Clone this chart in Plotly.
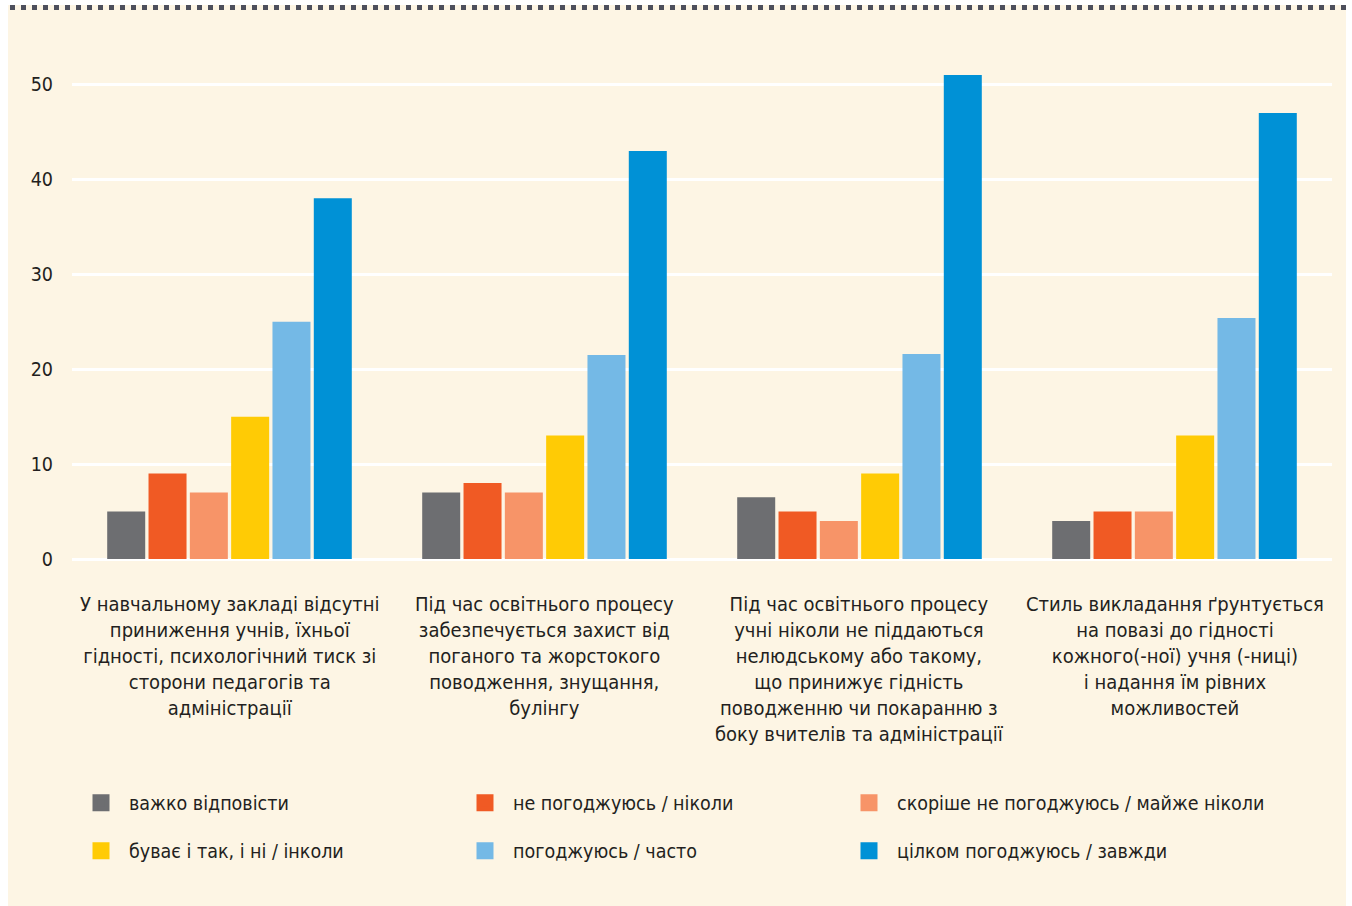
import plotly.graph_objects as go

categories = [
    "У навчальному закладі відсутні<br>приниження учнів, їхньої<br>гідності, психологічний тиск зі<br>сторони педагогів та<br>адміністрації",
    "Під час освітнього процесу<br>забезпечується захист від<br>поганого та жорстокого<br>поводження, знущання,<br>булінгу",
    "Під час освітнього процесу<br>учні ніколи не піддаються<br>нелюдському або такому,<br>що принижує гідність<br>поводженню чи покаранню з<br>боку вчителів та адміністрації",
    "Стиль викладання ґрунтується<br>на повазі до гідності<br>кожного(-ної) учня (-ниці)<br>і надання їм рівних<br>можливостей",
]
cat_ids = ["c1", "c2", "c3", "c4"]

series_names = [
    "важко відповісти",
    "не погоджуюсь / ніколи",
    "скоріше не погоджуюсь / майже ніколи",
    "буває і так, і ні / інколи",
    "погоджуюсь / часто",
    "цілком погоджуюсь / завжди",
]
v_hard = [5, 7, 6.5, 4]
v_disagree = [9, 8, 5, 5]
v_rather_not = [7, 7, 4, 5]
v_sometimes = [15, 13, 9, 13]
v_agree = [25, 21.5, 21.6, 25.4]
v_fully = [38, 43, 51, 47]
series_values = [v_hard, v_disagree, v_rather_not, v_sometimes, v_agree, v_fully]
colors = ["#6d6e71", "#f05a24", "#f79468", "#ffcb05", "#74b9e6", "#0091d6"]

y_ticks = [0, 10, 20, 30, 40, 50]

FONT = "DejaVu Sans Condensed, Liberation Sans Narrow, Arial Narrow, sans-serif"
TXT = "#231f20"
CREAM = "#fdf5e4"
FS = 19.5
FS_CAT = 20

fig = go.Figure()
for i, (name, vals, col) in enumerate(zip(series_names, series_values, colors)):
    # the real bars
    fig.add_trace(go.Bar(
        x=cat_ids, y=vals, name=name,
        marker=dict(color=col, line=dict(width=0)),
        showlegend=False, hoverinfo="y+name",
    ))
for i, (name, col) in enumerate(zip(series_names, colors)):
    # legend entries (empty bars on a hidden overlay axis, larger swatch)
    fig.add_trace(go.Bar(
        x=[None], y=[None], name=name, xaxis="x2",
        marker=dict(color=col, line=dict(width=5, color=col)),
        legend="legend" if i < 3 else "legend2",
        legendwidth=323 if i % 3 < 2 else 420,
        hoverinfo="skip",
    ))

# category labels
for cid, lab in zip(cat_ids, categories):
    fig.add_annotation(
        x=cid, xref="x", y=-0.062, yref="paper",
        text=lab, showarrow=False, xanchor="center", yanchor="top",
        align="center", font=dict(family=FONT, size=FS_CAT, color=TXT),
    )

L, R, T, B = 72, 20, 56, 347
W, H = 1352, 906
PW, PH = W - L - R, H - T - B

def px_x(p):
    return (p - L) / PW

def px_y(p):
    return (H - B - p) / PH

shapes = [
    dict(type="rect", xref="paper", yref="paper", layer="below",
         x0=px_x(8), x1=px_x(1346), y0=px_y(906), y1=px_y(5),
         fillcolor=CREAM, line=dict(width=0)),
    dict(type="line", xref="paper", yref="paper",
         x0=px_x(10), x1=px_x(1346), y0=px_y(7.5), y1=px_y(7.5),
         line=dict(color="#4d4f5c", width=5, dash="5px,6px")),
]

legend_common = dict(
    orientation="h", xanchor="left", yanchor="middle",
    bgcolor="rgba(0,0,0,0)", borderwidth=0,
    font=dict(family=FONT, size=FS, color=TXT),
    entrywidthmode="pixels", itemwidth=46,
    traceorder="normal",
)

fig.update_layout(
    width=W, height=H,
    margin=dict(l=L, r=R, t=T, b=B),
    paper_bgcolor="white",
    plot_bgcolor="rgba(0,0,0,0)",
    barmode="group",
    bargap=0.213,
    bargroupgap=0.08,
    showlegend=True,
    shapes=shapes,
    font=dict(family=FONT, size=FS, color=TXT),
    xaxis=dict(showticklabels=False, showgrid=False, zeroline=False,
               showline=False, ticks=""),
    xaxis2=dict(overlaying="x", visible=False),
    yaxis=dict(range=[0, 53], tickvals=y_ticks, ticktext=[str(t) for t in y_ticks],
               showgrid=True, gridcolor="white", gridwidth=3,
               zeroline=True, zerolinecolor="white", zerolinewidth=3,
               showline=False, ticks="", ticklabelstandoff=18,
               tickfont=dict(family=FONT, size=FS, color=TXT)),
    legend=dict(x=px_x(73), y=px_y(803), **legend_common),
    legend2=dict(x=px_x(73), y=px_y(851), **legend_common),
)

fig.write_html("out.html", config={"displayModeBar": False},
               post_script="document.body.style.margin='0px';")
